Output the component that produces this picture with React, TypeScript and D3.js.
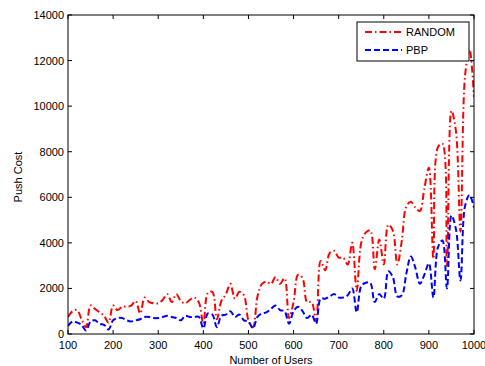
import React, { useEffect, useRef } from 'react';
import * as d3 from 'd3';

// number of users (x)
const users = [
  100, 110, 120, 130, 140, 150, 160, 170, 180, 190,
  200, 210, 220, 230, 240, 250, 260, 270, 280, 290,
  300, 310, 320, 330, 340, 350, 360, 370, 380, 390,
  400, 410, 420, 430, 440, 450, 460, 470, 480, 490,
  500, 510, 520, 530, 540, 550, 560, 570, 580, 590,
  600, 610, 620, 630, 640, 650, 660, 670, 680, 690,
  700, 710, 720, 730, 740, 750, 760, 770, 780, 790,
  800, 810, 820, 830, 840, 850, 860, 870, 880, 890,
  900, 910, 920, 930, 940, 950, 960, 970, 980, 990,
  1000,
];

const randomCost = [
  750, 1000, 1050, 650, 300, 1250, 1100, 950, 800, 500,
  1250, 1050, 1200, 1200, 1250, 1450, 900, 1600, 1400, 1350,
  1350, 1500, 1750, 1400, 1750, 1450, 1350, 1500, 1600, 1400,
  450, 1800, 1850, 650, 1450, 1750, 2200, 1550, 1850, 1700,
  600, 300, 1650, 2200, 2300, 2200, 2500, 2200, 2450, 700,
  1400, 2600, 2450, 1400, 1400, 550, 3200, 2800, 3550, 3650,
  3350, 3350, 3050, 4000, 1900, 4000, 4450, 4550, 2850, 4150,
  3050, 4800, 4550, 3050, 4100, 5600, 5800, 5550, 5400, 6400,
  7300, 3300, 8200, 8350, 3000, 9800, 8900, 4500, 11300, 12500,
  10400,
];

const pbpCost = [
  350, 550, 500, 400, 150, 550, 600, 450, 400, 200,
  600, 700, 700, 600, 550, 600, 650, 750, 750, 700,
  700, 750, 800, 750, 700, 600, 800, 750, 750, 750,
  250, 900, 850, 300, 800, 850, 1000, 750, 850, 600,
  550, 250, 750, 900, 950, 1100, 1250, 1050, 1000, 450,
  1000, 1200, 1000, 700, 850, 450, 1550, 1550, 1650, 1750,
  1600, 1600, 1700, 2000, 950, 2100, 2250, 2250, 1400, 1750,
  1550, 2750, 2500, 1650, 1700, 2650, 3400, 2900, 2200, 2600,
  3100, 1600, 3800, 4100, 2000, 5200, 4600, 2350, 5600, 6100,
  5550,
];

const xTicks = [100, 200, 300, 400, 500, 600, 700, 800, 900, 1000];
const yTicks = [0, 2000, 4000, 6000, 8000, 10000, 12000, 14000];

const series = [
  { name: 'RANDOM', values: randomCost, color: '#ff0000', dash: '7,3,1.5,3' },
  { name: 'PBP', values: pbpCost, color: '#0000ff', dash: '6,3' },
];

const App = () => {
  const ref = useRef<SVGSVGElement>(null);

  useEffect(() => {
    const svg = d3.select(ref.current);
    svg.selectAll('*').remove();

    const left = 68, right = 474, top = 15, bottom = 334;
    const x = d3.scaleLinear().domain([100, 1000]).range([left, right]);
    const y = d3.scaleLinear().domain([0, 14000]).range([bottom, top]);
    const font = 'Liberation Sans, Arial, sans-serif';

    svg.append('rect')
      .attr('width', 485).attr('height', 366).attr('fill', '#fff');

    // lines
    const line = d3.line<number>()
      .x((d, i) => x(users[i]))
      .y(d => y(d))
      .curve(d3.curveCatmullRom.alpha(0.5));

    const clip = svg.append('clipPath').attr('id', 'plotclip');
    clip.append('rect')
      .attr('x', left).attr('y', top)
      .attr('width', right - left).attr('height', bottom - top);

    series.forEach(s => {
      svg.append('path')
        .attr('d', line(s.values))
        .attr('fill', 'none')
        .attr('stroke', s.color)
        .attr('stroke-width', 2)
        .attr('stroke-dasharray', s.dash)
        .attr('clip-path', 'url(#plotclip)');
    });

    // frame
    svg.append('rect')
      .attr('x', left).attr('y', top)
      .attr('width', right - left).attr('height', bottom - top)
      .attr('fill', 'none').attr('stroke', '#000').attr('stroke-width', 1);

    // x ticks (inward, top and bottom)
    svg.selectAll('xticks')
      .data(xTicks)
      .enter()
      .append('path')
      .attr('d', d => `M${x(d)},${bottom}v-4M${x(d)},${top}v4`)
      .attr('stroke', '#000');

    svg.selectAll('xlabels')
      .data(xTicks)
      .enter()
      .append('text')
      .attr('x', d => x(d))
      .attr('y', 349)
      .attr('text-anchor', 'middle')
      .attr('font-family', font)
      .attr('font-size', 11)
      .text(d => d);

    // y ticks (inward, left and right)
    svg.selectAll('yticks')
      .data(yTicks)
      .enter()
      .append('path')
      .attr('d', d => `M${left},${y(d)}h4M${right},${y(d)}h-4`)
      .attr('stroke', '#000');

    svg.selectAll('ylabels')
      .data(yTicks)
      .enter()
      .append('text')
      .attr('x', 64)
      .attr('y', d => y(d) + 4)
      .attr('text-anchor', 'end')
      .attr('font-family', font)
      .attr('font-size', 11)
      .text(d => d);

    // axis titles
    svg.append('text')
      .attr('x', (left + right) / 2)
      .attr('y', 364)
      .attr('text-anchor', 'middle')
      .attr('font-family', font)
      .attr('font-size', 11)
      .text('Number of Users');

    svg.append('text')
      .attr('transform', 'translate(22,177) rotate(-90)')
      .attr('text-anchor', 'middle')
      .attr('font-family', font)
      .attr('font-size', 11)
      .text('Push Cost');

    // legend
    svg.append('rect')
      .attr('x', 357).attr('y', 22)
      .attr('width', 112).attr('height', 39)
      .attr('fill', '#fff').attr('stroke', '#000');

    series.forEach((s, i) => {
      const ly = 32 + i * 18;
      svg.append('line')
        .attr('x1', 365).attr('x2', 402)
        .attr('y1', ly).attr('y2', ly)
        .attr('stroke', s.color)
        .attr('stroke-width', 2)
        .attr('stroke-dasharray', s.dash);
      svg.append('text')
        .attr('x', 406)
        .attr('y', ly + 4)
        .attr('font-family', font)
        .attr('font-size', 11)
        .text(s.name);
    });
  }, []);

  return (
    <svg ref={ref} width={485} height={366}
      style={{ position: 'absolute', left: 0, top: 0 }} />
  );
};

export default App;
